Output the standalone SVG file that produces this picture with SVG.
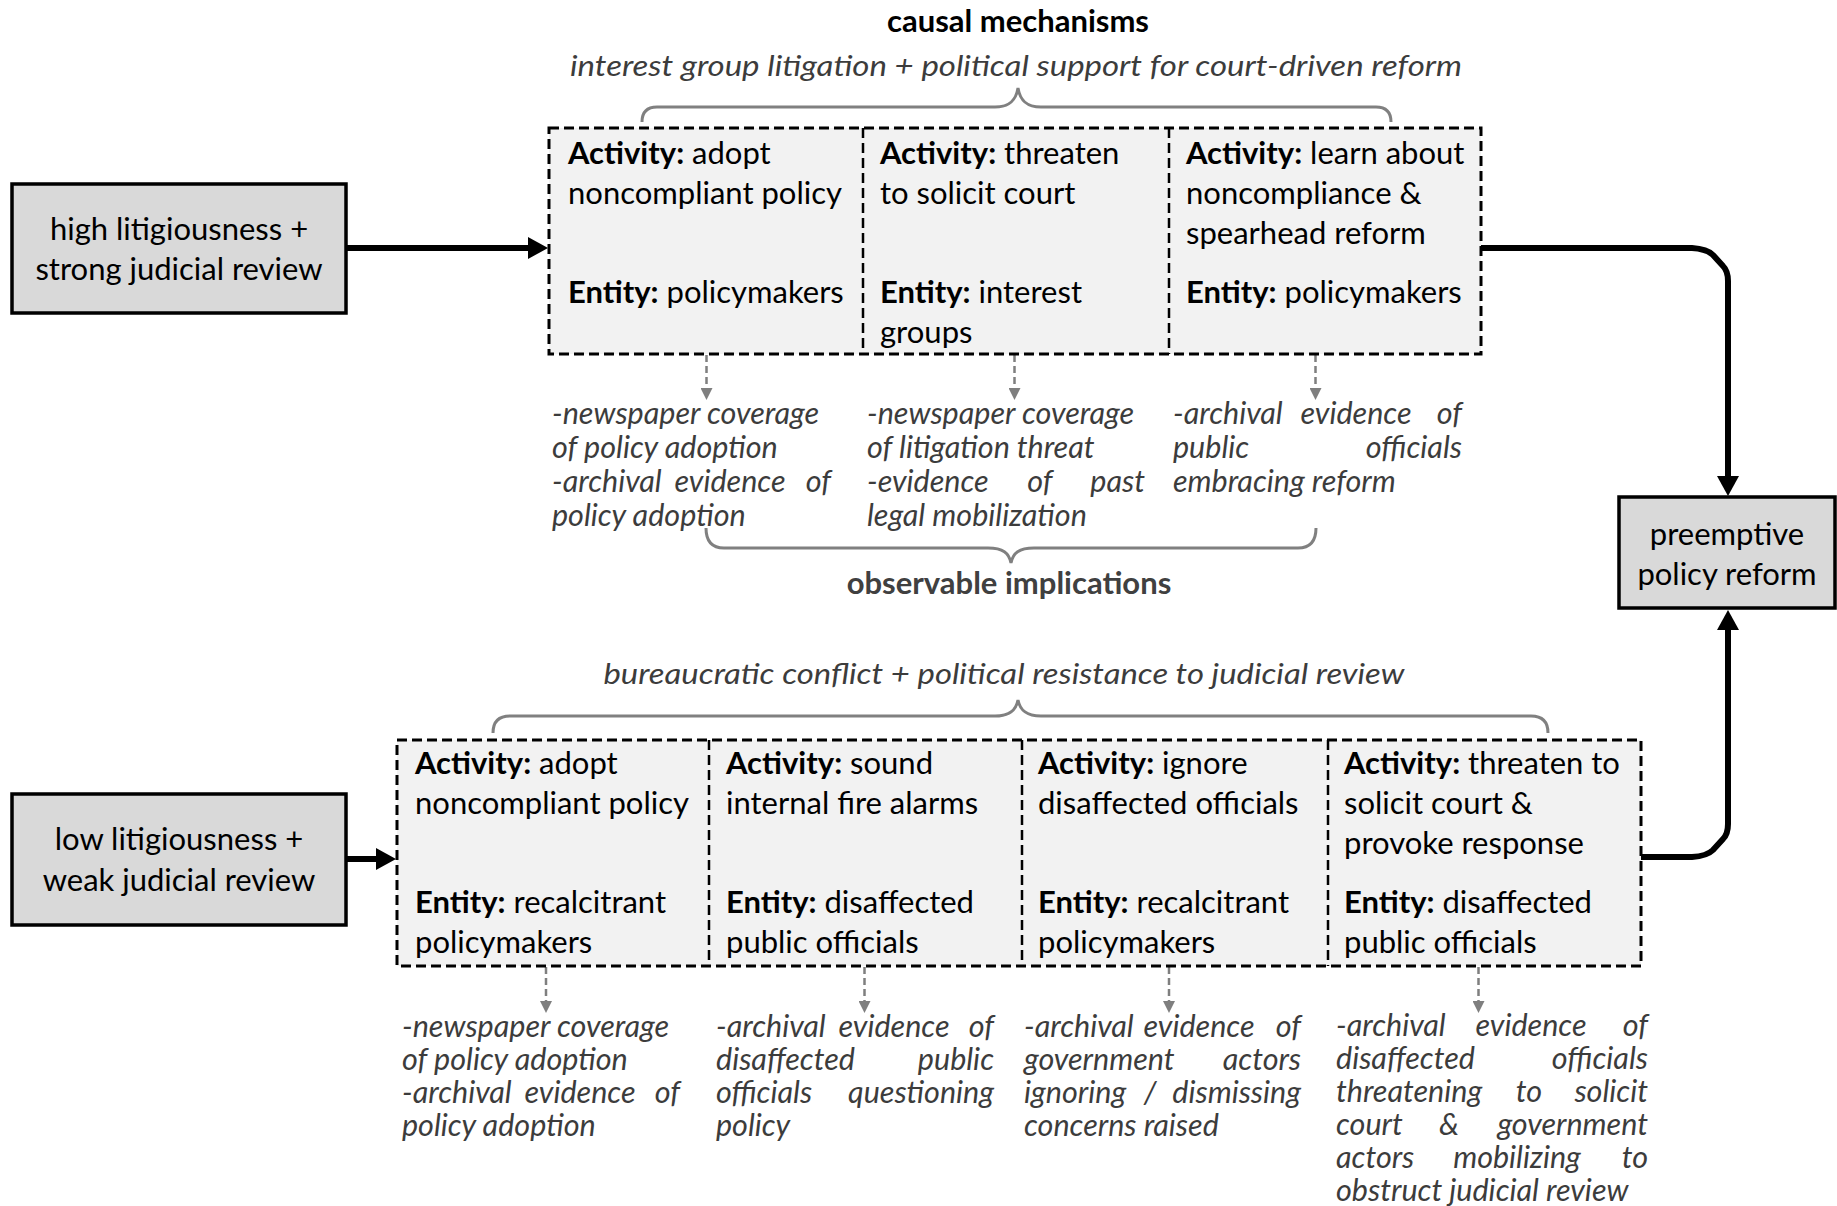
<svg xmlns="http://www.w3.org/2000/svg" width="1837" height="1206" viewBox="0 0 1837 1206">
<defs>
<style>
.box{fill:#d9d9d9;stroke:#000;stroke-width:3.5}
.cont{fill:#f2f2f2;stroke:#000;stroke-width:3;stroke-dasharray:10 5}
.div{stroke:#000;stroke-width:2.5;stroke-dasharray:10 5}
.t{font-family:Lato,"Open Sans",sans-serif;font-size:31px;fill:#000}
.c{text-anchor:middle}
.b{font-weight:bold}
.it{font-family:Lato,"Open Sans",sans-serif;font-style:italic;font-size:30.5px;fill:#3c3c3c}
.e{text-anchor:end}
.m{text-anchor:middle}
.brace{fill:none;stroke:#808080;stroke-width:3}
.conn{fill:none;stroke:#000;stroke-width:6}
.dash{stroke:#7f7f7f;stroke-width:2.5;stroke-dasharray:7 4}
</style>
<marker id="ah" markerUnits="userSpaceOnUse" markerWidth="20" markerHeight="22" refX="1" refY="11" orient="auto">
<path d="M0,0 L20,11 L0,22 z" fill="#000"/>
</marker>
<marker id="ahg" markerUnits="userSpaceOnUse" markerWidth="12" markerHeight="12" refX="1" refY="6" orient="auto">
<path d="M0,0 L12,6 L0,12 z" fill="#7f7f7f"/>
</marker>
</defs>
<rect width="1837" height="1206" fill="#fff"/>

<g id="labels">
<text class="t b c" x="1018" y="32">causal mechanisms</text>
<text class="it c" x="1016" y="76" textLength="892" lengthAdjust="spacingAndGlyphs" style="font-size:29px">interest group litigation + political support for court-driven reform</text>
<text class="t b c" x="1009" y="594" style="fill:#404040">observable implications</text>
<text class="it c" x="1004" y="684" textLength="801" lengthAdjust="spacingAndGlyphs" style="font-size:29px">bureaucratic conflict + political resistance to judicial review</text>
<path class="brace" d="M642,122 Q642,107 657,107 L995,107 C1010,107 1016,100 1018,88 C1020,100 1026,107 1041,107 L1376,107 Q1391,107 1391,122"/>
<path class="brace" d="M706,528 Q706,548 724,548 L988,548 C1003,548 1009,553 1011,563 C1013,553 1019,548 1034,548 L1298,548 Q1316,548 1316,528"/>
<path class="brace" d="M493,733 Q493,716 510,716 L995,716 C1010,716 1016,710 1018,700 C1020,710 1026,716 1041,716 L1531,716 Q1548,716 1548,733"/>
</g>

<g id="connectors">
<line class="conn" x1="346" y1="248" x2="529" y2="248" marker-end="url(#ah)"/>
<line class="conn" x1="346" y1="859" x2="377" y2="859" marker-end="url(#ah)"/>
<path class="conn" d="M1481,248 L1692,248 Q1707,249 1713,255 L1723,266 Q1728,271 1728,281 L1728,477" marker-end="url(#ah)"/>
<path class="conn" d="M1641,857 L1692,857 Q1707,856 1713,850 L1723,839 Q1728,834 1728,824 L1728,629" marker-end="url(#ah)"/>
<line class="dash" x1="706.5" y1="355" x2="706.5" y2="389" marker-end="url(#ahg)"/>
<line class="dash" x1="1014.5" y1="355" x2="1014.5" y2="389" marker-end="url(#ahg)"/>
<line class="dash" x1="1315.5" y1="355" x2="1315.5" y2="389" marker-end="url(#ahg)"/>
<line class="dash" x1="546" y1="967" x2="546" y2="1002" marker-end="url(#ahg)"/>
<line class="dash" x1="864.5" y1="967" x2="864.5" y2="1002" marker-end="url(#ahg)"/>
<line class="dash" x1="1169" y1="967" x2="1169" y2="1002" marker-end="url(#ahg)"/>
<line class="dash" x1="1478.5" y1="967" x2="1478.5" y2="1002" marker-end="url(#ahg)"/>
</g>

<g id="high-litigiousness">
<rect class="box" x="12" y="184" width="334" height="129"/>
<text class="t c" x="179" y="240">high litigiousness +</text>
<text class="t c" x="179" y="280">strong judicial review</text>
</g>

<g id="low-litigiousness">
<rect class="box" x="12" y="794" width="334" height="131"/>
<text class="t c" x="179" y="850">low litigiousness +</text>
<text class="t c" x="179" y="891">weak judicial review</text>
</g>

<g id="preemptive-reform">
<rect class="box" x="1619" y="497" width="216" height="111"/>
<text class="t c" x="1727" y="545">preemptive</text>
<text class="t c" x="1727" y="585">policy reform</text>
</g>

<g id="top-chain">
<rect class="cont" x="549" y="128" width="932" height="226"/>
<line class="div" x1="863" y1="128" x2="863" y2="354"/>
<line class="div" x1="1169" y1="128" x2="1169" y2="354"/>
</g>
<g id="top-step-1">
<text class="t" x="568" y="164"><tspan class="b">Activity:</tspan> adopt</text>
<text class="t" x="568" y="204">noncompliant policy</text>
<text class="t" x="568" y="303"><tspan class="b">Entity:</tspan> policymakers</text>
</g>
<g id="top-step-2">
<text class="t" x="880" y="164"><tspan class="b">Activity:</tspan> threaten</text>
<text class="t" x="880" y="204">to solicit court</text>
<text class="t" x="880" y="303"><tspan class="b">Entity:</tspan> interest</text>
<text class="t" x="880" y="343">groups</text>
</g>
<g id="top-step-3">
<text class="t" x="1186" y="164"><tspan class="b">Activity:</tspan> learn about</text>
<text class="t" x="1186" y="204">noncompliance &amp;</text>
<text class="t" x="1186" y="244">spearhead reform</text>
<text class="t" x="1186" y="303"><tspan class="b">Entity:</tspan> policymakers</text>
</g>

<g id="top-evidence-1">
<text class="it" x="552" y="424">-newspaper coverage</text>
<text class="it" x="552" y="458">of policy adoption</text>
<text class="it" x="552" y="492">-archival</text><text class="it m" x="730" y="492">evidence</text><text class="it e" x="831" y="492">of</text>
<text class="it" x="552" y="526">policy adoption</text>
</g>
<g id="top-evidence-2">
<text class="it" x="867" y="424">-newspaper coverage</text>
<text class="it" x="867" y="458">of litigation threat</text>
<text class="it" x="867" y="492">-evidence</text><text class="it m" x="1040" y="492">of</text><text class="it e" x="1145" y="492">past</text>
<text class="it" x="867" y="526">legal mobilization</text>
</g>
<g id="top-evidence-3">
<text class="it" x="1173" y="424">-archival</text><text class="it m" x="1356" y="424">evidence</text><text class="it e" x="1462" y="424">of</text>
<text class="it" x="1173" y="458">public</text><text class="it e" x="1462" y="458">officials</text>
<text class="it" x="1173" y="492">embracing reform</text>
</g>

<g id="bottom-chain">
<rect class="cont" x="397" y="740" width="1244" height="226"/>
<line class="div" x1="709" y1="740" x2="709" y2="966"/>
<line class="div" x1="1022" y1="740" x2="1022" y2="966"/>
<line class="div" x1="1328" y1="740" x2="1328" y2="966"/>
</g>
<g id="bottom-step-1">
<text class="t" x="415" y="774"><tspan class="b">Activity:</tspan> adopt</text>
<text class="t" x="415" y="814">noncompliant policy</text>
<text class="t" x="415" y="913"><tspan class="b">Entity:</tspan> recalcitrant</text>
<text class="t" x="415" y="953">policymakers</text>
</g>
<g id="bottom-step-2">
<text class="t" x="726" y="774"><tspan class="b">Activity:</tspan> sound</text>
<text class="t" x="726" y="814">internal fire alarms</text>
<text class="t" x="726" y="913"><tspan class="b">Entity:</tspan> disaffected</text>
<text class="t" x="726" y="953">public officials</text>
</g>
<g id="bottom-step-3">
<text class="t" x="1038" y="774"><tspan class="b">Activity:</tspan> ignore</text>
<text class="t" x="1038" y="814">disaffected officials</text>
<text class="t" x="1038" y="913"><tspan class="b">Entity:</tspan> recalcitrant</text>
<text class="t" x="1038" y="953">policymakers</text>
</g>
<g id="bottom-step-4">
<text class="t" x="1344" y="774"><tspan class="b">Activity:</tspan> threaten to</text>
<text class="t" x="1344" y="814">solicit court &amp;</text>
<text class="t" x="1344" y="854">provoke response</text>
<text class="t" x="1344" y="913"><tspan class="b">Entity:</tspan> disaffected</text>
<text class="t" x="1344" y="953">public officials</text>
</g>

<g id="bottom-evidence-1">
<text class="it" x="402" y="1037">-newspaper coverage</text>
<text class="it" x="402" y="1070">of policy adoption</text>
<text class="it" x="402" y="1103">-archival</text><text class="it m" x="580" y="1103">evidence</text><text class="it e" x="680" y="1103">of</text>
<text class="it" x="402" y="1136">policy adoption</text>
</g>
<g id="bottom-evidence-2">
<text class="it" x="716" y="1037">-archival</text><text class="it m" x="894" y="1037">evidence</text><text class="it e" x="994" y="1037">of</text>
<text class="it" x="716" y="1070">disaffected</text><text class="it e" x="994" y="1070">public</text>
<text class="it" x="716" y="1103">officials</text><text class="it e" x="994" y="1103">questioning</text>
<text class="it" x="716" y="1136">policy</text>
</g>
<g id="bottom-evidence-3">
<text class="it" x="1024" y="1037">-archival</text><text class="it m" x="1199" y="1037">evidence</text><text class="it e" x="1301" y="1037">of</text>
<text class="it" x="1024" y="1070">government</text><text class="it e" x="1301" y="1070">actors</text>
<text class="it" x="1024" y="1103">ignoring</text><text class="it m" x="1150" y="1103">/</text><text class="it e" x="1301" y="1103">dismissing</text>
<text class="it" x="1024" y="1136">concerns raised</text>
</g>
<g id="bottom-evidence-4">
<text class="it" x="1336" y="1036">-archival</text><text class="it m" x="1531" y="1036">evidence</text><text class="it e" x="1648" y="1036">of</text>
<text class="it" x="1336" y="1069">disaffected</text><text class="it e" x="1648" y="1069">officials</text>
<text class="it" x="1336" y="1102">threatening</text><text class="it m" x="1529" y="1102">to</text><text class="it e" x="1648" y="1102">solicit</text>
<text class="it" x="1336" y="1135">court</text><text class="it m" x="1449" y="1135">&amp;</text><text class="it e" x="1648" y="1135">government</text>
<text class="it" x="1336" y="1168">actors</text><text class="it m" x="1517" y="1168">mobilizing</text><text class="it e" x="1648" y="1168">to</text>
<text class="it" x="1336" y="1201">obstruct judicial review</text>
</g>
</svg>
